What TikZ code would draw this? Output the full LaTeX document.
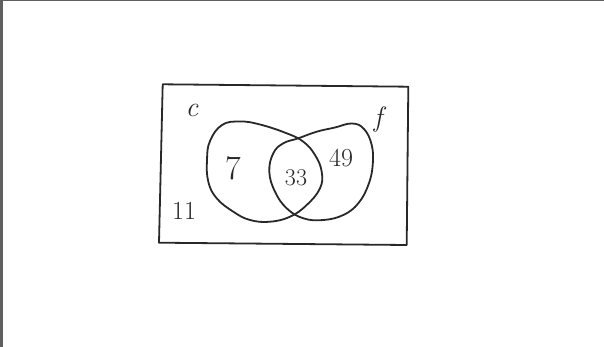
\documentclass[tikz,border=0pt]{standalone}
\usepackage{xcolor}
\usepackage{tikz}
\usetikzlibrary{positioning}

\definecolor{pencil}{RGB}{40,40,40}
\definecolor{scanedge}{RGB}{95,95,95}

\begin{document}
\begin{tikzpicture}[x=1pt, y=-1pt,
    ink/.style={draw=pencil, line width=1.8pt, line join=round, line cap=round},
    lbl/.style={text=pencil, inner sep=0pt}]
    \useasboundingbox (0,0) rectangle (604,347);
    \fill[white] (0,0) rectangle (604,347);
    % scan edges
    \fill[scanedge] (0,0) rectangle (3,347);
    \fill[scanedge] (0,0) rectangle (604,1.5);
    % universe box
    \draw[ink] (162.7,84.3) -- (408.3,86.7) -- (406.7,245) -- (159,242.7) -- cycle;
    % set c
    \draw[ink] plot[smooth cycle, tension=0.7] coordinates {
        (222,125) (240,121.5) (260,124.5) (286.7,133.3) (303.3,141.7)
        (315,155) (321.7,171.7) (320,188.3) (306.7,205) (290,216.7)
        (270,221.7) (250,220) (233.3,211.7) (216.7,198.3) (208.3,181.7)
        (207,160) (210,141)};
    % set f
    \draw[ink] plot[smooth cycle, tension=0.7] coordinates {
        (298.3,138.3) (316.7,131.7) (335,127.5) (352,123.5) (364,129)
        (371.7,145) (372.7,165) (368.3,185) (358.3,203.3) (343.3,215)
        (323.3,220) (303.3,218.3) (286.7,208.3) (275,191.7) (269.3,171.7)
        (273.3,153.3) (283.3,143.3)};
    % labels
    \node[lbl, font=\fontsize{28}{28}\selectfont\itshape] (setc) at (192,110) {c};
    \node[lbl, font=\fontsize{28}{28}\selectfont\itshape] (setf) at (378,120) {f};
    \node[lbl, font=\fontsize{34}{34}\selectfont] (onlyc) at (233,168) {7};
    \node[lbl, font=\fontsize{24}{24}\selectfont] (both) at (296,178) {33};
    \node[lbl, font=\fontsize{26}{26}\selectfont] (onlyf) at (341,158) {49};
    \node[lbl, font=\fontsize{26}{26}\selectfont] (neither) at (184,211) {11};
\end{tikzpicture}
\end{document}
